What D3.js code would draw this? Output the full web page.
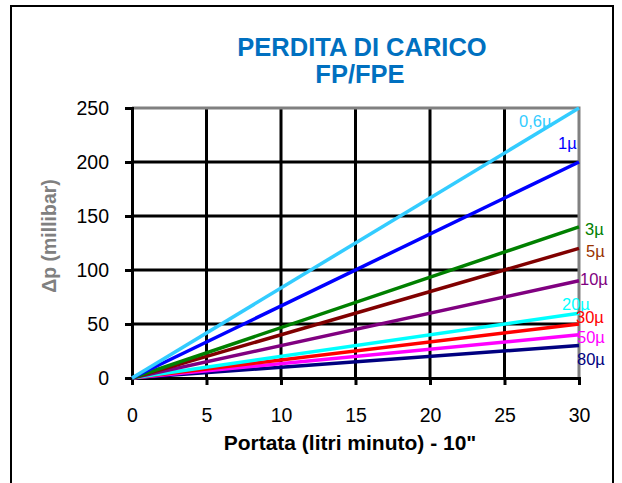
<!DOCTYPE html>
<html>
<head>
<meta charset="utf-8">
<script src="https://cdn.jsdelivr.net/npm/d3@7"></script>
<style>
  body { margin: 0; background: #fff; }
  svg { font-family: "Liberation Sans", Arial, sans-serif; }
</style>
</head>
<body>
<div id="chart"></div>
<script>
/* DATA */
const series = ["0,6µ", "1µ", "3µ", "5µ", "10µ", "20µ", "30µ", "50µ", "80µ"];
// pressure drop (millibar) at 30 l/min, lines start from 0
const endValues = [250, 200, 140, 120, 90, 60, 50, 40, 30];
const lineColors = ["#33CCFF", "#0000FF", "#008000", "#800000", "#800080", "#00FFFF", "#FF0000", "#FF00FF", "#000080"];
const labelColors = ["#33CCFF", "#0000FF", "#008000", "#993300", "#800080", "#00FFFF", "#FF0000", "#FF00FF", "#000080"];
const xTicks = [0, 5, 10, 15, 20, 25, 30];
const yTicks = [0, 50, 100, 150, 200, 250];

const width = 622, height = 483;
const margin = { top: 108, bottom: 105, left: 132, right: 43 };

const svg = d3.select("#chart").append("svg")
  .attr("width", width)
  .attr("height", height);

// outer frame
svg.append("rect")
  .attr("x", 11).attr("y", 6)
  .attr("width", 602).attr("height", 520)
  .attr("fill", "none").attr("stroke", "#000").attr("stroke-width", 2);

const xScale = d3.scaleLinear().domain([0, 30]).range([margin.left, width - margin.right]);
const yScale = d3.scaleLinear().domain([0, 250]).range([height - margin.bottom, margin.top]);

// grid
svg.append("g").selectAll("line")
  .data(yTicks.filter(d => d > 0 && d < 250))
  .join("line")
  .attr("x1", xScale(0)).attr("x2", xScale(30))
  .attr("y1", d => yScale(d)).attr("y2", d => yScale(d))
  .attr("stroke", "#000").attr("stroke-width", 3);

svg.append("g").selectAll("line")
  .data(xTicks.filter(d => d > 0 && d < 30))
  .join("line")
  .attr("y1", yScale(0)).attr("y2", yScale(250))
  .attr("x1", d => xScale(d)).attr("x2", d => xScale(d))
  .attr("stroke", "#000").attr("stroke-width", 3);

// grey plot border top/right
svg.append("path")
  .attr("d", `M${xScale(0)},${yScale(250)}H${xScale(30)}V${yScale(0)}`)
  .attr("fill", "none").attr("stroke", "#808080").attr("stroke-width", 3);

// axes
const xAxis = d3.axisBottom(xScale).tickValues(xTicks).tickSize(7).tickPadding(23);
const yAxis = d3.axisLeft(yScale).tickValues(yTicks).tickSize(7).tickPadding(16);

const gx = svg.append("g")
  .attr("transform", `translate(0,${yScale(0)})`)
  .call(xAxis);
const gy = svg.append("g")
  .attr("transform", `translate(${xScale(0)},0)`)
  .call(yAxis);

[gx, gy].forEach(g => {
  g.select(".domain").attr("stroke", "#000").attr("stroke-width", 3);
  g.selectAll(".tick line").attr("stroke", "#000").attr("stroke-width", 3);
  g.selectAll(".tick text").attr("fill", "#000").style("font-size", "19.5px");
});

// lines, lowest drawn first
const line = d3.line().x(d => xScale(d[0])).y(d => yScale(d[1]));
const rows = series.map((s, i) => ({ name: s, value: endValues[i], color: lineColors[i], label: labelColors[i] }));

svg.append("g").selectAll("path")
  .data(rows.slice().reverse())
  .join("path")
  .attr("d", d => line([[0, 0], [30, d.value]]))
  .attr("fill", "none")
  .attr("stroke", d => d.color)
  .attr("stroke-width", 3.5);

// series labels (offsets from line end)
const labelOffsets = {
  "0,6µ": [-60, 19], "1µ": [-21, -13], "3µ": [6, 8], "5µ": [7, 9], "10µ": [1, 4],
  "20µ": [-17, -3], "30µ": [-3, -1], "50µ": [-2, 8], "80µ": [-2, 19]
};
svg.append("g").selectAll("text")
  .data(rows)
  .join("text")
  .attr("x", d => xScale(30) + labelOffsets[d.name][0])
  .attr("y", d => yScale(d.value) + labelOffsets[d.name][1])
  .attr("fill", d => d.label)
  .style("font-size", "16.5px")
  .text(d => d.name);

// titles
svg.append("text")
  .attr("x", 362).attr("y", 56)
  .attr("text-anchor", "middle")
  .attr("fill", "#0070C0")
  .style("font-size", "25.5px").style("font-weight", "bold")
  .text("PERDITA DI CARICO");
svg.append("text")
  .attr("x", 360).attr("y", 83)
  .attr("text-anchor", "middle")
  .attr("fill", "#0070C0")
  .style("font-size", "25.5px").style("font-weight", "bold")
  .text("FP/FPE");

svg.append("text")
  .attr("transform", "translate(56,236) rotate(-90)")
  .attr("text-anchor", "middle")
  .attr("fill", "#808080")
  .style("font-size", "19.5px").style("font-weight", "bold")
  .text("Δp (millibar)");

svg.append("text")
  .attr("x", 350).attr("y", 450)
  .attr("text-anchor", "middle")
  .attr("fill", "#000")
  .style("font-size", "21px").style("font-weight", "bold")
  .text("Portata (litri minuto) - 10\"");
</script>
</body>
</html>
